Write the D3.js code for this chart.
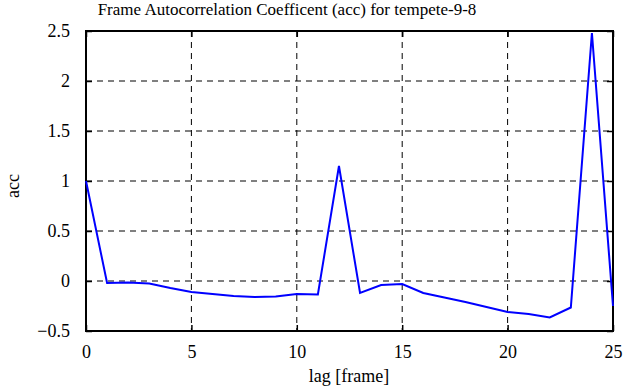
<!DOCTYPE html>
<html>
<head>
<meta charset="utf-8">
<script src="https://cdn.jsdelivr.net/npm/d3@7"></script>
<style>
  body { margin: 0; background: #fff; }
  svg { display: block; }
  svg text { font-family: "Liberation Serif", "Times New Roman", serif !important; }
</style>
</head>
<body>
<div class="container"></div>
<script>
// lag (frames) and autocorrelation values
const lags = [0, 1, 2, 3, 4, 5, 6, 7, 8, 9, 10, 11, 12, 13, 14, 15, 16, 17, 18, 19, 20, 21, 22, 23, 24, 25];
const acc = [1.0, -0.02, -0.015, -0.025, -0.07, -0.11, -0.13, -0.15, -0.16, -0.155, -0.13, -0.135, 1.15,
             -0.12, -0.04, -0.03, -0.12, -0.165, -0.21, -0.26, -0.31, -0.33, -0.365, -0.265, 2.48, -0.25];
const xTicks = [0, 5, 10, 15, 20, 25];
const yTicks = [-0.5, 0, 0.5, 1, 1.5, 2, 2.5];

const margin = {top: 31, right: 17, bottom: 56, left: 86};
let w = 630 - margin.left - margin.right,
    h = 387 - margin.top - margin.bottom;

let svg = d3.select(".container").append("svg").attr("width", 630).attr("height", 387);
let g = svg.append("g").attr("transform", "translate(" + margin.left + "," + margin.top + ")");

let xScale = d3.scaleLinear().domain([0, 25]).range([0, w]);
let yScale = d3.scaleLinear().domain([-0.5, 2.5]).range([h, 0]);

//Grid lines (dashed)
g.selectAll(".vgrid").data(xTicks.slice(1, -1)).enter().append("line")
  .attr("x1", d => xScale(d)).attr("x2", d => xScale(d)).attr("y1", 0).attr("y2", h)
  .attr("stroke", "#000").attr("stroke-width", 1).attr("stroke-dasharray", "6,5");
g.selectAll(".hgrid").data(yTicks.slice(1, -1)).enter().append("line")
  .attr("x1", 0).attr("x2", w).attr("y1", d => yScale(d)).attr("y2", d => yScale(d))
  .attr("stroke", "#000").attr("stroke-width", 1).attr("stroke-dasharray", "6,5");

//Axes with inward ticks on all four sides
const styleAxis = sel => {
  sel.attr("font-family", "Liberation Serif").attr("font-size", 18);
  sel.select(".domain").remove();
  sel.selectAll(".tick line").attr("stroke", "#000").attr("stroke-width", 1.5);
  sel.selectAll("text").attr("fill", "#000");
};
g.append("g").attr("transform", "translate(0," + h + ")")
  .call(d3.axisBottom(xScale).tickValues(xTicks).tickSize(-6).tickPadding(14).tickFormat(d3.format("d")))
  .call(styleAxis);
g.append("g")
  .call(d3.axisTop(xScale).tickValues(xTicks).tickSize(-6).tickFormat(""))
  .call(styleAxis);
g.append("g")
  .call(d3.axisLeft(yScale).tickValues(yTicks).tickSize(-6).tickPadding(16).tickFormat(d => d3.format("")(d)))
  .call(styleAxis);
g.append("g").attr("transform", "translate(" + w + ",0)")
  .call(d3.axisRight(yScale).tickValues(yTicks).tickSize(-6).tickFormat(""))
  .call(styleAxis);

//Frame
g.append("rect").attr("width", w).attr("height", h)
  .attr("fill", "none").attr("stroke", "#000").attr("stroke-width", 2);

//Data line
let line = d3.line().x((d, i) => xScale(lags[i])).y(d => yScale(d));
g.append("path").datum(acc).attr("d", line)
  .attr("fill", "none").attr("stroke", "#0000ff").attr("stroke-width", 2).attr("stroke-linejoin", "miter");

//Title and axis labels
svg.append("text").attr("x", 287).attr("y", 15).attr("text-anchor", "middle")
  .attr("font-size", 17).text("Frame Autocorrelation Coefficent (acc) for tempete-9-8");
svg.append("text").attr("x", 349).attr("y", 382).attr("text-anchor", "middle")
  .attr("font-size", 18).text("lag [frame]");
svg.append("text").attr("transform", "translate(19,186) rotate(-90)").attr("text-anchor", "middle")
  .attr("font-size", 18).text("acc");
</script>
</body>
</html>
